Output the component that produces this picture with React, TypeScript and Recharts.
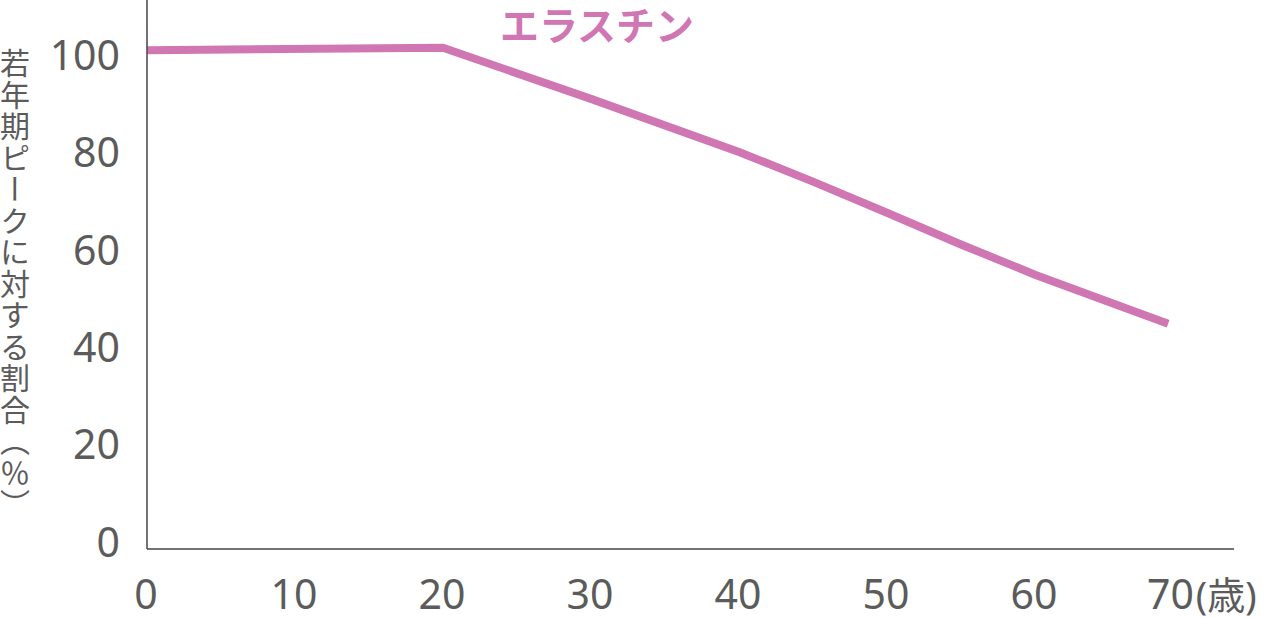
import { LineChart, Line, XAxis, YAxis } from "recharts";

// 年齢(歳)とエラスチン量(若年期ピーク=100)
const ages = [0, 20, 30, 40, 45, 50, 55, 60, 65, 69];
const elastin = [101, 101.5, 91, 80.1, 74.0, 67.6, 61.1, 54.9, 49.3, 44.8];
const xTicks = [0, 10, 20, 30, 40, 50, 60, 70];
const yTicks = [0, 20, 40, 60, 80, 100];

const data = ages.map((age, i) => ({ age, value: elastin[i] }));

const GRAY = "#5b5b5b";
const PINK = "#cf76b3";
const FONT = "'Noto Sans', 'Noto Sans CJK JP', sans-serif";

function XTick(props: any) {
  const { x, y, payload } = props;
  if (payload.value === 70) {
    return (
      <text x={x - 36} y={y} dy="0.71em" textAnchor="start" fill={GRAY} fontSize={41} fontFamily={FONT}>
        70<tspan fontSize={38} dx={2}>(歳)</tspan>
      </text>
    );
  }
  return (
    <text x={x - 1} y={y} dy="0.71em" textAnchor="middle" fill={GRAY} fontSize={41} fontFamily={FONT}>
      {payload.value}
    </text>
  );
}

function YTick(props: any) {
  const { x, y, payload } = props;
  return (
    <text x={x} y={y} dy="0.36em" textAnchor="end" fill={GRAY} fontSize={41} fontFamily={FONT}>
      {payload.value}
    </text>
  );
}

export default function App() {
  return (
    <div style={{ position: "absolute", left: 0, top: 0, width: 1264, height: 618, background: "#fff" }}>
      <LineChart width={1264} height={618} data={data} margin={{ top: 0, right: 30, left: 0, bottom: 0 }}>
        <XAxis
          dataKey="age"
          type="number"
          domain={[0, 73.45]}
          ticks={xTicks}
          tick={<XTick />}
          tickLine={false}
          tickSize={0}
          tickMargin={31}
          height={69}
          axisLine={{ stroke: "#444", strokeWidth: 1.5 }}
        />
        <YAxis
          type="number"
          domain={[-1.44, 111.3]}
          ticks={yTicks}
          tick={<YTick />}
          tickLine={false}
          tickSize={0}
          tickMargin={27}
          width={147}
          axisLine={{ stroke: "#444", strokeWidth: 1.5 }}
        />
        <Line
          type="linear"
          dataKey="value"
          stroke={PINK}
          strokeWidth={8}
          dot={false}
          activeDot={false}
          isAnimationActive={false}
        />
      </LineChart>
      <div
        style={{
          position: "absolute",
          left: 497,
          top: -5,
          width: 200,
          textAlign: "center",
          color: PINK,
          fontFamily: "'Noto Sans CJK JP', sans-serif",
          fontWeight: 700,
          fontSize: 39,
          whiteSpace: "nowrap",
        }}
      >
        エラスチン
      </div>
      <div
        style={{
          position: "absolute",
          left: 0,
          top: 48,
          height: 470,
          writingMode: "vertical-rl",
          color: GRAY,
          fontFamily: "'Noto Sans CJK JP', sans-serif",
          fontSize: 30,
          lineHeight: "30px",
          letterSpacing: 1.5,
          whiteSpace: "nowrap",
        }}
      >
        若年期ピークに対する割合（％）
      </div>
    </div>
  );
}
